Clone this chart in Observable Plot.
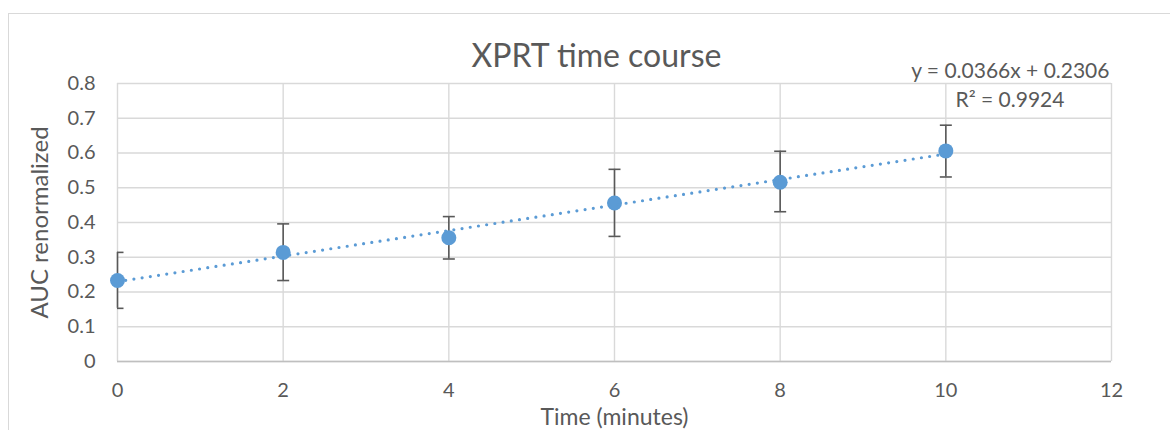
<!DOCTYPE html>
<html>
<head>
<meta charset="utf-8">
<script src="https://cdn.jsdelivr.net/npm/d3@7"></script>
<script src="https://cdn.jsdelivr.net/npm/@observablehq/plot@0.6"></script>
<style>
  html, body { margin: 0; padding: 0; background: #fff; }
  #wrap { position: relative; width: 1170px; height: 430px; overflow: hidden; }
  #border { position: absolute; left: 8px; top: 13px; width: 1200px; height: 500px;
            border-left: 1.5px solid #d9d9d9; border-top: 1.5px solid #d9d9d9; }
  #chart { position: absolute; left: 0; top: 0; }
</style>
</head>
<body>
<div id="wrap"><div id="border"></div><div id="chart"></div></div>
<script>
const title = "XPRT time course";
const xLabel = "Time (minutes)";
const yLabel = "AUC renormalized";
const times = [0, 2, 4, 6, 8, 10];
const means = [0.233, 0.314, 0.356, 0.456, 0.516, 0.606];
const lower = [0.153, 0.233, 0.295, 0.360, 0.431, 0.531];
const upper = [0.314, 0.396, 0.417, 0.553, 0.605, 0.680];
const xTicks = [0, 2, 4, 6, 8, 10, 12];
const yTicks = [0, 0.1, 0.2, 0.3, 0.4, 0.5, 0.6, 0.7, 0.8];
const equationText = "y = 0.0366x + 0.2306";
const r2Text = "R² = 0.9924";

const data = times.map((t, i) => ({x: t, y: means[i], lo: lower[i], hi: upper[i]}));

const FONT = "Lato, 'Open Sans', sans-serif";
const TXT = "#595959";
const BLUE = "#5b9bd5";
const capSymbol = { draw(ctx) { ctx.moveTo(-6, 0); ctx.lineTo(6, 0); } };

const chart = Plot.plot({
  width: 1170,
  height: 430,
  marginLeft: 117,
  marginRight: 59,
  marginTop: 83,
  marginBottom: 69,
  style: { fontFamily: FONT, fontSize: "20px", color: TXT, background: "transparent" },
  x: { domain: [0, 12], ticks: xTicks, label: null },
  y: { domain: [0, 0.8], ticks: yTicks, label: null },
  marks: [
    Plot.gridY(yTicks, { stroke: "#d9d9d9", strokeOpacity: 1, strokeWidth: 1.4 }),
    Plot.gridX(xTicks, { stroke: "#d9d9d9", strokeOpacity: 1, strokeWidth: 1.4 }),
    Plot.ruleY([0], { stroke: "#bfbfbf", strokeWidth: 1.4 }),
    Plot.axisX(xTicks, { tickSize: 0, tickPadding: 21, fontSize: 20, fill: TXT, tickFormat: d => String(d) }),
    Plot.axisY(yTicks, { tickSize: 0, tickPadding: 22, fontSize: 20, fill: TXT, tickFormat: d => String(+d.toFixed(1)) }),
    Plot.ruleX(data, { x: "x", y1: "lo", y2: "hi", stroke: "#595959", strokeWidth: 1.6 }),
    Plot.dot(data, { x: "x", y: "hi", symbol: capSymbol, stroke: "#595959", strokeWidth: 1.6, fill: "none", clip: true }),
    Plot.dot(data, { x: "x", y: "lo", symbol: capSymbol, stroke: "#595959", strokeWidth: 1.6, fill: "none", clip: true }),
    Plot.dot(data, { x: "x", y: "y", r: 7.5, fill: BLUE, stroke: "none" }),
    Plot.linearRegressionY(data, { x: "x", y: "y", ci: 0, stroke: BLUE, strokeWidth: 3.2,
      strokeDasharray: "0 8.3", strokeLinecap: "round" }),
    Plot.text([title], { frameAnchor: "top", dx: -18, dy: -27, fontSize: 32, fill: TXT, lineAnchor: "middle", text: d => d }),
    Plot.text([equationText], { frameAnchor: "top-right", textAnchor: "end", dx: -2, dy: -12, fontSize: 21, fill: TXT, lineAnchor: "middle", text: d => d }),
    Plot.text([r2Text], { frameAnchor: "top-right", textAnchor: "start", dx: -156, dy: 17, fontSize: 21, fill: TXT, lineAnchor: "middle", text: d => d }),
    Plot.text([xLabel], { frameAnchor: "bottom", dy: 56, fontSize: 23, fill: TXT, lineAnchor: "middle", textAnchor: "middle", text: d => d }),
    Plot.text([yLabel], { frameAnchor: "left", dx: -77, rotate: -90, fontSize: 24, fill: TXT, lineAnchor: "middle", textAnchor: "middle", text: d => d })
  ]
});
document.getElementById("chart").appendChild(chart);
</script>
</body>
</html>
